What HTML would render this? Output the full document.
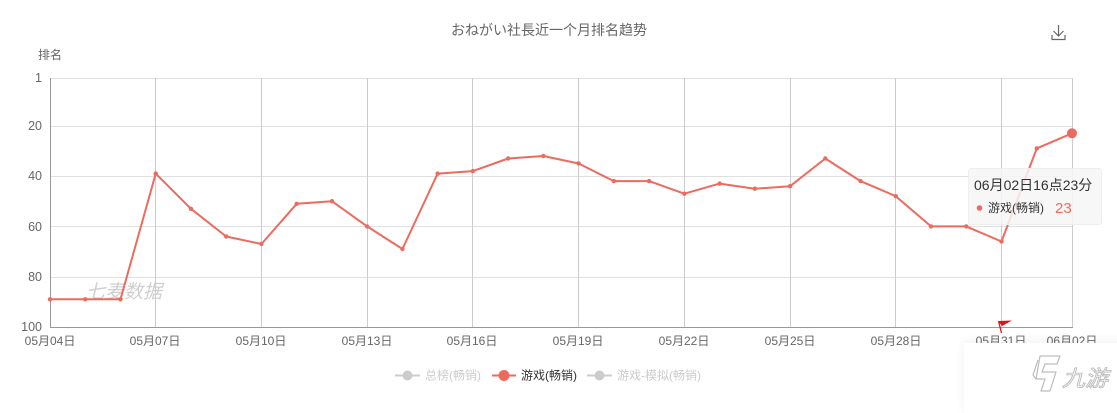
<!DOCTYPE html>
<html>
<head>
<meta charset="utf-8">
<style>
  html,body{margin:0;padding:0;background:#fff;}
  body{width:1117px;height:402px;overflow:hidden;position:relative;font-family:"Liberation Sans","Noto Sans CJK SC",sans-serif;}
  svg{position:absolute;left:0;top:0;}
  .cover{position:absolute;left:964px;top:343px;width:170px;height:70px;background:#fff;box-shadow:0 -2px 10px rgba(0,0,0,0.06);}
  .tip{position:absolute;left:968px;top:168px;width:134px;height:57px;background:rgba(246,246,246,0.85);border:1px solid #eee;border-radius:3px;box-sizing:border-box;}
</style>
</head>
<body>
<svg width="1117" height="402" viewBox="0 0 1117 402" xmlns="http://www.w3.org/2000/svg" font-family="Liberation Sans, Noto Sans CJK SC, sans-serif">
  <text x="549" y="35" text-anchor="middle" font-size="14" fill="#666">おねがい社長近一个月排名趋势</text>
  <g stroke="#666" stroke-width="1.2" fill="none">
    <line x1="1058.5" y1="25" x2="1058.5" y2="36"/>
    <polyline points="1053.5,31 1058.5,36 1063.5,31"/>
    <polyline points="1052,35 1052,39.5 1065,39.5 1065,35"/>
  </g>
  <text x="38" y="59" font-size="12" fill="#666">排名</text>

  <g stroke="#e0e0e0" stroke-width="1">
    <line x1="50" y1="78.5" x2="1072" y2="78.5"/>
    <line x1="50" y1="126.5" x2="1072" y2="126.5"/>
    <line x1="50" y1="176.5" x2="1072" y2="176.5"/>
    <line x1="50" y1="226.5" x2="1072" y2="226.5"/>
    <line x1="50" y1="277.5" x2="1072" y2="277.5"/>
  </g>
  <g stroke="#cccccc" stroke-width="1">
    <line x1="155.5" y1="78" x2="155.5" y2="327"/>
    <line x1="261.5" y1="78" x2="261.5" y2="327"/>
    <line x1="367.5" y1="78" x2="367.5" y2="327"/>
    <line x1="472.5" y1="78" x2="472.5" y2="327"/>
    <line x1="578.5" y1="78" x2="578.5" y2="327"/>
    <line x1="684.5" y1="78" x2="684.5" y2="327"/>
    <line x1="790.5" y1="78" x2="790.5" y2="327"/>
    <line x1="895.5" y1="78" x2="895.5" y2="327"/>
    <line x1="1001.5" y1="78" x2="1001.5" y2="327"/>
    <line x1="1072.5" y1="78" x2="1072.5" y2="327"/>
  </g>
  <line x1="50.5" y1="78" x2="50.5" y2="328" stroke="#999" stroke-width="1"/>
  <line x1="50" y1="327.5" x2="1073" y2="327.5" stroke="#999" stroke-width="1"/>

  <g font-size="12.5" fill="#666" text-anchor="end">
    <text x="42" y="82">1</text>
    <text x="42" y="130">20</text>
    <text x="42" y="180">40</text>
    <text x="42" y="231">60</text>
    <text x="42" y="281">80</text>
    <text x="42" y="331">100</text>
  </g>
  <g font-size="12" fill="#666" text-anchor="middle">
    <text x="50" y="345">05月04日</text>
    <text x="155" y="345">05月07日</text>
    <text x="261" y="345">05月10日</text>
    <text x="367" y="345">05月13日</text>
    <text x="472" y="345">05月16日</text>
    <text x="578" y="345">05月19日</text>
    <text x="684" y="345">05月22日</text>
    <text x="790" y="345">05月25日</text>
    <text x="896" y="345">05月28日</text>
    <text x="1001" y="345">05月31日</text>
    <text x="1072" y="345">06月02日</text>
  </g>

  <text x="86" y="298" font-size="19" font-style="italic" fill="#cfcfcf">七麦数据</text>

  <polyline fill="none" stroke="#ec6b5e" stroke-width="2" stroke-linejoin="round"
    points="50,299.3 85.24,299.3 120.48,299.3 155.72,173.6 190.97,208.8 226.21,236.5 261.45,244 296.69,203.8 331.93,201.2 367.17,226.4 402.41,249 437.66,173.6 472.9,171.1 508.14,158.5 543.38,156 578.62,163.5 613.86,181.1 649.1,181.1 684.34,193.7 719.59,183.6 754.83,188.7 790.07,186.2 825.31,158.5 860.55,181.1 895.79,196.2 931.03,226.4 966.28,226.4 1001.52,241.5 1036.76,148.4 1072,133.3"/>
  <g fill="#ec6b5e">
    <circle cx="50" cy="299.3" r="2.2"/>
    <circle cx="85.24" cy="299.3" r="2.2"/>
    <circle cx="120.48" cy="299.3" r="2.2"/>
    <circle cx="155.72" cy="173.6" r="2.2"/>
    <circle cx="190.97" cy="208.8" r="2.2"/>
    <circle cx="226.21" cy="236.5" r="2.2"/>
    <circle cx="261.45" cy="244" r="2.2"/>
    <circle cx="296.69" cy="203.8" r="2.2"/>
    <circle cx="331.93" cy="201.2" r="2.2"/>
    <circle cx="367.17" cy="226.4" r="2.2"/>
    <circle cx="402.41" cy="249" r="2.2"/>
    <circle cx="437.66" cy="173.6" r="2.2"/>
    <circle cx="472.9" cy="171.1" r="2.2"/>
    <circle cx="508.14" cy="158.5" r="2.2"/>
    <circle cx="543.38" cy="156" r="2.2"/>
    <circle cx="578.62" cy="163.5" r="2.2"/>
    <circle cx="613.86" cy="181.1" r="2.2"/>
    <circle cx="649.1" cy="181.1" r="2.2"/>
    <circle cx="684.34" cy="193.7" r="2.2"/>
    <circle cx="719.59" cy="183.6" r="2.2"/>
    <circle cx="754.83" cy="188.7" r="2.2"/>
    <circle cx="790.07" cy="186.2" r="2.2"/>
    <circle cx="825.31" cy="158.5" r="2.2"/>
    <circle cx="860.55" cy="181.1" r="2.2"/>
    <circle cx="895.79" cy="196.2" r="2.2"/>
    <circle cx="931.03" cy="226.4" r="2.2"/>
    <circle cx="966.28" cy="226.4" r="2.2"/>
    <circle cx="1001.52" cy="241.5" r="2.2"/>
    <circle cx="1036.76" cy="148.4" r="2.2"/>
    <circle cx="1072" cy="133.3" r="5"/>
  </g>

  <line x1="998.5" y1="321" x2="1001.5" y2="333" stroke="#d9141a" stroke-width="1.3"/>
  <polygon points="998,321 1012,320.5 1002,326" fill="#e0101a"/>

  <g>
    <line x1="395" y1="375.5" x2="420" y2="375.5" stroke="#ccc" stroke-width="2"/>
    <circle cx="407.5" cy="375.5" r="5" fill="#ccc"/>
    <text x="425" y="379.5" font-size="12" fill="#ccc">总榜(畅销)</text>
    <line x1="492" y1="375.5" x2="516" y2="375.5" stroke="#ec6b5e" stroke-width="2"/>
    <circle cx="504" cy="375.5" r="5.5" fill="#ec6b5e"/>
    <text x="521" y="379.5" font-size="12" fill="#333">游戏(畅销)</text>
    <line x1="587" y1="375.5" x2="612" y2="375.5" stroke="#ccc" stroke-width="2"/>
    <circle cx="599.5" cy="375.5" r="5" fill="#ccc"/>
    <text x="617" y="379.5" font-size="12" fill="#ccc">游戏-模拟(畅销)</text>
  </g>
</svg>

<div class="tip"></div>
<svg width="1117" height="402" viewBox="0 0 1117 402" xmlns="http://www.w3.org/2000/svg" font-family="Liberation Sans, Noto Sans CJK SC, sans-serif" style="pointer-events:none">
  <text x="974" y="190" font-size="14" fill="#333">06月02日16点23分</text>
  <circle cx="979.5" cy="208" r="2.8" fill="#ec6b5e"/>
  <text x="988" y="212" font-size="12" fill="#333">游戏(畅销)</text>
  <text x="1055" y="213" font-size="15" fill="#ec6b5e">23</text>
</svg>

<div class="cover"></div>
<svg width="1117" height="402" viewBox="0 0 1117 402" xmlns="http://www.w3.org/2000/svg" font-family="Liberation Sans, Noto Sans CJK SC, sans-serif">
  <g fill="none" stroke="#bdbdbd" stroke-width="1.2" stroke-linejoin="round">
    <path d="M1040,356 L1060,356 L1057,364 L1045,364 L1042,372 L1056,372 L1050,391 L1041,391 L1045,379 L1036,379 Z"/>
    <path d="M1038,360 L1033,375 L1036,379"/>
  </g>
  <text x="1062" y="386" font-size="22" font-style="italic" fill="none" stroke="#bdbdbd" stroke-width="0.9" textLength="46" lengthAdjust="spacingAndGlyphs">九游</text>
</svg>
</body>
</html>
